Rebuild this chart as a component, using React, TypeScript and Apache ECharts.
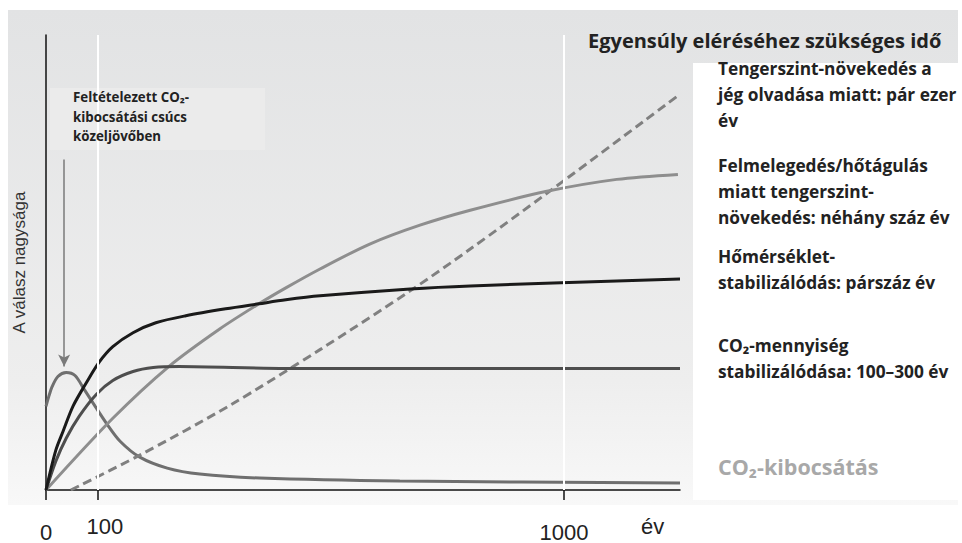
import React, { useEffect, useRef } from "react";
import * as echarts from "echarts";

// x = years, y = relative magnitude of response (schematic)
const tempX = [0, 19, 33, 52, 77, 102, 129, 168, 212, 270, 347, 411, 463, 529, 703, 819, 1224];
const tempY = [0, 40, 59, 84, 107, 128, 144, 158, 168, 175, 182, 187, 191, 195, 202, 205, 212];

const concX = [0, 19, 39, 64, 97, 129, 168, 207, 257, 463, 1224];
const concY = [0, 29, 52, 74, 96, 110, 119, 123, 124, 122, 122];

const emisX = [0, 6, 12, 23, 39, 56, 75, 95, 118, 143, 181, 234, 297, 413, 683, 1224];
const emisY = [84, 95, 104, 114, 118, 115, 100, 84, 66, 49, 33, 22, 16, 12, 9, 7];

const expX = [0, 129, 237, 336, 411, 463, 529, 625, 722, 819, 967, 1102, 1220];
const expY = [0, 72, 124, 162, 187, 203, 222, 247, 266, 281, 300, 312, 317];

const iceX = [48, 181, 355, 529, 703, 819, 967, 1220];
const iceY = [0, 35, 85, 141, 200, 242, 298, 396];

const xTicks = [0, 100, 1000];
const gridLinesX = [100, 1000];

const zip = (xs: number[], ys: number[]) => xs.map((x, i) => [x, ys[i]]);

const panelFont = "'Open Sans', Lato, sans-serif";
const axisFont = "'Liberation Sans', Arial, sans-serif";

export default function App() {
  const ref = useRef<HTMLDivElement>(null);
  useEffect(() => {
    if (!ref.current) return;
    const chart = echarts.init(ref.current, undefined, { renderer: "svg" });
    const txt = (text: string, x: number, y: number, size: number, fill = "#222", weight: any = "bold", family = panelFont) => ({
      type: "text",
      x,
      y,
      z: 10,
      style: { text, fontSize: size, fontWeight: weight, fontFamily: family, fill, verticalAlign: "middle", align: "left" },
    });
    const lineBase = (name: string, data: number[][], color: string, extra: any = {}) => ({
      name,
      type: "line",
      data,
      smooth: 0.3,
      showSymbol: false,
      symbol: "none",
      lineStyle: { color, width: 3, ...(extra.lineStyle || {}) },
      z: 3,
      ...(extra.rest || {}),
    });
    chart.setOption({
      animation: false,
      backgroundColor: "#ffffff",
      grid: { left: 46, top: 35, right: 282, bottom: 51, containLabel: false },
      xAxis: {
        type: "value",
        min: 0,
        max: 1224,
        axisLine: { show: true, lineStyle: { color: "#111", width: 1.5 } },
        axisTick: { show: true, customValues: xTicks, length: 10, inside: false, lineStyle: { color: "#111", width: 1.5 } },
        axisLabel: {
          show: true,
          customValues: xTicks,
          margin: 25,
          fontSize: 22,
          color: "#222",
          fontFamily: axisFont,
          formatter: (v: number) => (v === 100 ? "{h|100}" : "{l|" + String(v) + "}"),
          rich: {
            h: { fontSize: 22, fontFamily: axisFont, color: "#222", padding: [0, 0, 0, 14] },
            l: { fontSize: 22, fontFamily: axisFont, color: "#222", padding: [6, 0, 0, 0] },
          },
        },
        splitLine: { show: false },
      },
      yAxis: {
        type: "value",
        min: 0,
        max: 457,
        name: "A válasz nagysága",
        nameLocation: "middle",
        nameRotate: 90,
        nameGap: 18,
        nameTextStyle: { fontSize: 17, color: "#333", fontFamily: axisFont },
        axisLine: { show: true, lineStyle: { color: "#111", width: 1.5 } },
        axisTick: { show: false },
        axisLabel: { show: false },
        splitLine: { show: false },
      },
      series: [
        {
          name: "grid",
          type: "line",
          data: [],
          z: 1,
          markLine: {
            silent: true,
            symbol: "none",
            label: { show: false },
            lineStyle: { color: "#ffffff", width: 2, type: "solid" },
            data: gridLinesX.map((x) => ({ xAxis: x })),
          },
        },
        lineBase("CO₂-kibocsátás", zip(emisX, emisY), "#6f6f6f", {
          rest: {
            markLine: {
              silent: true,
              symbol: ["none", "arrow"],
              symbolSize: [9, 12],
              label: { show: false },
              lineStyle: { color: "#7a7a7a", width: 1.5, type: "solid" },
              data: [[{ coord: [35, 332] }, { coord: [35, 124] }]],
            },
          },
        }),
        lineBase("Tengerszint-növekedés (jég)", zip(iceX, iceY), "#808080", { lineStyle: { type: [9, 5] } }),
        lineBase("Hőtágulás", zip(expX, expY), "#8e8e8e"),
        lineBase("CO₂-mennyiség", zip(concX, concY), "#4e4e4e"),
        lineBase("Hőmérséklet", zip(tempX, tempY), "#1a1a1a"),
      ],
      graphic: [
        {
          type: "rect",
          z: -10,
          shape: { x: 8, y: 10, width: 950, height: 495 },
          style: {
            fill: new echarts.graphic.LinearGradient(0, 0, 0, 1, [
              { offset: 0, color: "#e2e3e4" },
              { offset: 0.75, color: "#eeeeee" },
              { offset: 1, color: "#f8f8f8" },
            ]),
          },
        },
        { type: "rect", z: -9, shape: { x: 693, y: 63, width: 265, height: 437 }, style: { fill: "#ffffff" } },
        { type: "rect", z: 5, shape: { x: 50, y: 88, width: 215, height: 62 }, style: { fill: "#ebebeb" } },
        txt("Egyensúly eléréséhez szükséges idő", 588, 40, 20),
        txt("Tengerszint-növekedés a", 718, 68, 17.3),
        txt("jég olvadása miatt: pár ezer", 718, 94, 17.3),
        txt("év", 718, 120, 17.3),
        txt("Felmelegedés/hőtágulás", 718, 165, 17.3),
        txt("miatt tengerszint-", 718, 191, 17.3),
        txt("növekedés: néhány száz év", 718, 217, 17.3),
        txt("Hőmérséklet-", 718, 256, 17.3),
        txt("stabilizálódás: párszáz év", 718, 282, 17.3),
        txt("CO₂-mennyiség", 718, 345, 17.3),
        txt("stabilizálódása: 100–300 év", 718, 371, 17.3),
        txt("CO₂-kibocsátás", 718, 466, 21.5, "#a8a8a8"),
        txt("Feltételezett CO₂-", 73, 97, 13.3),
        txt("kibocsátási csúcs", 73, 117, 13.3),
        txt("közeljövőben", 73, 136, 13.3),
        txt("év", 641, 526, 22, "#222", "normal", axisFont),
      ],
    });
    return () => chart.dispose();
  }, []);
  return <div ref={ref} style={{ position: "fixed", left: 0, top: 0, width: 962, height: 543 }} />;
}
